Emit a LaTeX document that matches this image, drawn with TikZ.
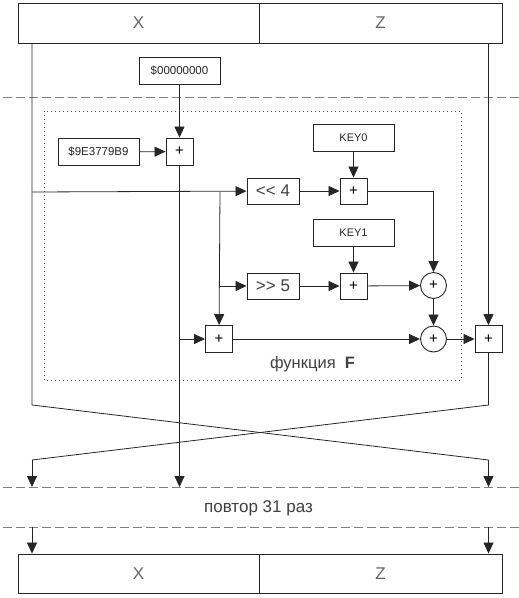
\documentclass[tikz,border=0pt]{standalone}
\usepackage{fontspec}
\setmainfont{Liberation Sans}
\usetikzlibrary{arrows.meta,shapes.geometric}
\begin{document}
\begin{tikzpicture}[x=1pt,y=-1pt,
  line width=0.8pt, draw=black!85,
  arr/.style={-{Triangle[length=11pt,width=10pt]}},
  blk/.style={draw=black!85, line width=0.9pt, inner sep=0pt, fill=white},
  regbox/.style={blk, minimum height=40pt, text=black!60, font=\fontsize{17}{17}\selectfont},
  valbox/.style={blk, minimum width=81pt, minimum height=27pt, text=black!85, font=\fontsize{11.5}{11.5}\selectfont},
  shiftbox/.style={blk, minimum width=52pt, minimum height=26pt, text=black!75, font=\fontsize{17}{17}\selectfont},
  sumbox/.style={blk, minimum width=27pt, minimum height=27pt, font=\fontsize{15}{15}\selectfont},
  circ/.style={blk, circle, minimum size=26pt, font=\fontsize{15}{15}\selectfont},
  dashline/.style={draw=black!50, dash pattern=on 9pt off 4pt, line width=1pt},
  dotline/.style={draw=black!70, dash pattern=on 0.8pt off 3.2pt, line width=0.8pt},
  lbl/.style={inner sep=0pt, text=black!75},
]
\useasboundingbox (0,0) rectangle (519,598);

% frames and separators
\draw[dotline] (44,111) rectangle (461,380);
\draw[dashline] (3,97) -- (519,97);
\draw[dashline] (3,487) -- (519,487);
\draw[dashline] (3,527) -- (519,527);

% registers
\node[regbox, minimum width=241pt] (tx) at (138.5,23) {X};
\node[regbox, minimum width=243pt] (tz) at (380.5,23) {Z};
\node[regbox, minimum width=241pt, minimum height=39pt] (bx) at (138.5,573.5) {X};
\node[regbox, minimum width=243pt, minimum height=39pt] (bz) at (380.5,573.5) {Z};

% constants and keys
\node[valbox] (c0) at (179.5,70.5) {\$00000000};
\node[valbox] (delta) at (98.5,152) {\$9E3779B9};
\node[valbox, font=\fontsize{11}{11}\selectfont] (k0) at (353.5,137.5) {KEY0};
\node[valbox, font=\fontsize{11}{11}\selectfont] (k1) at (353.5,232.5) {KEY1};

% adders
\node[sumbox] (s1) at (179.5,151.5) {+};
\node[sumbox, minimum height=26pt] (s2) at (353.5,191) {+};
\node[sumbox, minimum height=26pt] (s3) at (353.5,286) {+};
\node[sumbox] (s4) at (219,339) {+};
\node[sumbox] (s5) at (488.5,339) {+};

% shifts
\node[shiftbox] (sl) at (273,191) {<\kern0pt< 4};
\node[shiftbox] (sr) at (273,286) {>\kern0pt> 5};

% xors
\node[circ] (x1) at (433.5,285.5) {+};
\node[circ] (x2) at (433.5,339) {+};

% labels
\node[lbl, font=\fontsize{16.5}{16.5}\selectfont] (fl) at (312.5,364) {функция~~\textbf{F}};
\node[lbl, font=\fontsize{17}{17}\selectfont] (rep) at (258.5,508) {повтор 31 раз};

% coordinates
\coordinate (xtop) at (32,43);
\coordinate (ztop) at (488.5,43);
\coordinate (xb) at (32,192);
\coordinate (br) at (220,192);
\coordinate (br2) at (220,286);
\coordinate (sb) at (179.5,339);
\coordinate (xc1) at (32,405);
\coordinate (zc1) at (488.5,405);
\coordinate (xc2) at (488.5,460);
\coordinate (zc2) at (32,460);
\coordinate (xa) at (488.5,487);
\coordinate (za) at (32,487);
\coordinate (sa) at (179.5,487);
\coordinate (xd) at (32,527);
\coordinate (zd) at (488.5,527);
\coordinate (s2r) at (433.5,191);

% connectors
\draw[arr] (c0) -- (s1);
\draw[arr] (delta) -- (s1);
\draw[arr] (k0) -- (s2);
\draw[arr] (k1) -- (s3);
\draw (xtop) -- (xc1) -- (xc2);
\draw[arr] (xc2) -- (xa);
\draw[arr] (ztop) -- (s5);
\draw (s5) -- (zc1) -- (zc2);
\draw[arr] (zc2) -- (za);
\draw[arr] (xb) -- (sl);
\draw[arr] (br) -- (s4);
\draw[arr] (br2) -- (sr);
\draw[arr] (sl) -- (s2);
\draw[arr] (sr) -- (s3);
\draw[arr] (s2) -- (s2r) -- (x1);
\draw[arr] (s3) -- (x1);
\draw[arr] (x1) -- (x2);
\draw[arr] (s4) -- (x2);
\draw[arr] (x2) -- (s5);
\draw[arr] (s1) -- (sa);
\draw[arr] (sb) -- (s4);
\draw[arr] (xd) -- (bx.north -| xd);
\draw[arr] (zd) -- (bz.north -| zd);
\end{tikzpicture}
\end{document}
